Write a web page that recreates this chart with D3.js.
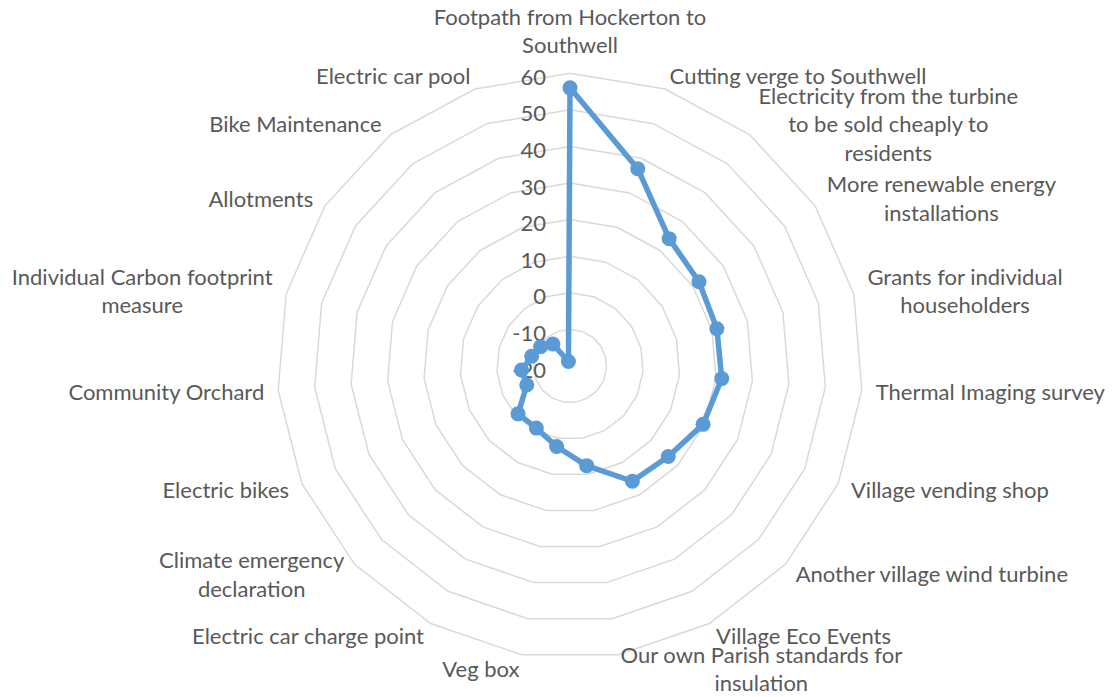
<!DOCTYPE html>
<html>
<head>
<meta charset="utf-8">
<script src="https://cdn.jsdelivr.net/npm/d3@7"></script>
<style>
  html, body { margin: 0; padding: 0; background: #fff; }
  svg { display: block; font-family: Lato, "Open Sans", sans-serif; }
</style>
</head>
<body>
<svg id="radar" width="1118" height="697"></svg>
<script>
// 1: DATA
const categories = [
    ["Footpath from Hockerton to", "Southwell"],
    ["Cutting verge to Southwell"],
    ["Electricity from the turbine", "to be sold cheaply to", "residents"],
    ["More renewable energy", "installations"],
    ["Grants for individual", "householders"],
    ["Thermal Imaging survey"],
    ["Village vending shop"],
    ["Another village wind turbine"],
    ["Village Eco Events"],
    ["Our own Parish standards for", "insulation"],
    ["Veg box"],
    ["Electric car charge point"],
    ["Climate emergency", "declaration"],
    ["Electric bikes"],
    ["Community Orchard"],
    ["Individual Carbon footprint", "measure"],
    ["Allotments"],
    ["Bike Maintenance"],
    ["Electric car pool"]
];
const values = [56, 37, 24.1, 22.1, 21.4, 21.6, 19.7, 16.5, 15.8, 7.6, 2.3, -0.7, -0.7, -7.1, -6.7, -9.2, -10.4, -12.4, -18.7];
const ticks = [-20, -10, 0, 10, 20, 30, 40, 50, 60];

// 2: LAYOUT
const cx = 570, cy = 366;
const outerR = 292.8;
const labelGap = 14;
const lineH = 28.5;
const fontSize = "22px";
const textColor = "#595959";
const seriesColor = "#5b9bd5";

const svg = d3.select("#radar");
const g = svg.append("g").attr("transform", `translate(${cx},${cy})`);

const n = categories.length;
const angle = d3.scaleLinear().domain([0, n]).range([0, 2 * Math.PI]);
const r = d3.scaleLinear().domain([ticks[0], ticks[ticks.length - 1]]).range([0, outerR]);

// 3: GRID RINGS
const ring = d3.lineRadial()
    .angle((d, i) => angle(i))
    .radius(d => r(d))
    .curve(d3.curveLinearClosed);

g.selectAll(".ring")
    .data(ticks.slice(1))
    .enter()
    .append("path")
    .attr("class", "ring")
    .attr("fill", "none")
    .attr("stroke", "#d9d9d9")
    .attr("stroke-width", 1.5)
    .attr("d", v => ring(d3.range(n).map(() => v)));

// 4: TICK LABELS
g.selectAll(".tick")
    .data(ticks)
    .enter()
    .append("text")
    .attr("class", "tick")
    .attr("x", -24)
    .attr("y", v => -r(v) + 3)
    .attr("text-anchor", "end")
    .attr("dominant-baseline", "central")
    .style("font-size", fontSize)
    .style("fill", textColor)
    .text(v => v);

// 5: SERIES
const line = d3.lineRadial()
    .angle((d, i) => angle(i))
    .radius(d => r(d))
    .curve(d3.curveLinearClosed);

g.append("path")
    .datum(values)
    .attr("fill", "none")
    .attr("stroke", seriesColor)
    .attr("stroke-width", 5.5)
    .attr("stroke-linejoin", "round")
    .attr("d", line);

g.selectAll(".dot")
    .data(values)
    .enter()
    .append("circle")
    .attr("class", "dot")
    .attr("cx", (d, i) => r(d) * Math.sin(angle(i)))
    .attr("cy", (d, i) => -r(d) * Math.cos(angle(i)))
    .attr("r", 7.5)
    .attr("fill", seriesColor);

// 6: CATEGORY LABELS
g.selectAll(".cat")
    .data(categories)
    .enter()
    .append("g")
    .attr("class", "cat")
    .each(function(lines, i) {
        const a = angle(i);
        const s = Math.sin(a), c = Math.cos(a);
        const px = (outerR + labelGap) * s;
        const py = -(outerR + labelGap) * c;
        const grp = d3.select(this);
        const texts = grp.selectAll("text")
            .data(lines)
            .enter()
            .append("text")
            .attr("text-anchor", "middle")
            .attr("dominant-baseline", "central")
            .style("font-size", fontSize)
            .style("fill", textColor)
            .text(d => d);
        let blockW = 0;
        texts.each(function() { blockW = Math.max(blockW, this.getComputedTextLength()); });
        let mx = px;
        if (Math.abs(s) > 0.05) mx = s > 0 ? px + blockW / 2 : px - blockW / 2;
        const k = lines.length;
        let firstY;
        if (i === 0) firstY = py - lineH / 2 - (k - 1) * lineH;
        else firstY = py - (k - 1) * lineH / 2;
        texts.attr("x", mx).attr("y", (d, j) => firstY + j * lineH);
    });
</script>
</body>
</html>
